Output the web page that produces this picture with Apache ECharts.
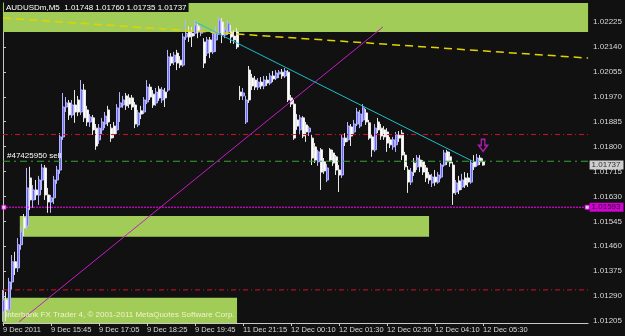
<!DOCTYPE html>
<html>
<head>
<meta charset="utf-8">
<title>AUDUSDm,M5</title>
<script src="https://cdn.jsdelivr.net/npm/echarts@6/dist/echarts.min.js"></script>
<style>
  html, body { margin: 0; padding: 0; background: #000; }
  #main { width: 625px; height: 336px; }
</style>
</head>
<body>
<div id="main"></div>
<script type="text/javascript">
// ---- data ----
// time axis labels, one every 16 bars (M5)
var tickLabels = ['9 Dec 2011', '9 Dec 15:45', '9 Dec 17:05', '9 Dec 18:25', '9 Dec 19:45',
  '11 Dec 21:15', '12 Dec 00:10', '12 Dec 01:30', '12 Dec 02:50', '12 Dec 04:10', '12 Dec 05:30'];
// price scale labels on the right
var yTicks = [1.01205, 1.0129, 1.01375, 1.0146, 1.01545, 1.0163, 1.01715, 1.018, 1.01885,
  1.0197, 1.02055, 1.0214, 1.02225];

// bars: [open, close, low, high]
var ohlc = [
  [1.01236, 1.01277, 1.01202, 1.01311], [1.01277, 1.01243, 1.01205, 1.01304], [1.01243, 1.01338, 1.01216, 1.01352],
  [1.01338, 1.01407, 1.01311, 1.01430], [1.01407, 1.01386, 1.01362, 1.01441], [1.01386, 1.01465, 1.01372, 1.01488],
  [1.01465, 1.01509, 1.01448, 1.01529], [1.01557, 1.01522, 1.01495, 1.01570], [1.01529, 1.01659, 1.01516, 1.01727],
  [1.01693, 1.01618, 1.01584, 1.01731], [1.01618, 1.01652, 1.01591, 1.01669], [1.01652, 1.01635, 1.01618, 1.01686],
  [1.01635, 1.01686, 1.01601, 1.01700], [1.01686, 1.01727, 1.01652, 1.01741], [1.01727, 1.01635, 1.01618, 1.01737],
  [1.01635, 1.01611, 1.01574, 1.01659], [1.01611, 1.01625, 1.01574, 1.01635], [1.01625, 1.01686, 1.01604, 1.01700],
  [1.01686, 1.01720, 1.01673, 1.01734], [1.01720, 1.01833, 1.01707, 1.01846], [1.01833, 1.01935, 1.01823, 1.01983],
  [1.01935, 1.01949, 1.01918, 1.01969], [1.01949, 1.01908, 1.01891, 1.01959], [1.01908, 1.01942, 1.01898, 1.01959],
  [1.01942, 1.01918, 1.01881, 1.01993], [1.01959, 1.01918, 1.01904, 1.01973], [1.01918, 1.01993, 1.01908, 1.02027],
  [1.01993, 1.01898, 1.01884, 1.02014], [1.01925, 1.01884, 1.01870, 1.01939], [1.01884, 1.01901, 1.01867, 1.01911],
  [1.01898, 1.01857, 1.01840, 1.01908], [1.01863, 1.01802, 1.01789, 1.01877], [1.01823, 1.01863, 1.01809, 1.01877],
  [1.01857, 1.01884, 1.01843, 1.01898], [1.01877, 1.01904, 1.01863, 1.01918], [1.01925, 1.01884, 1.01870, 1.01939],
  [1.01863, 1.01829, 1.01816, 1.01877], [1.01870, 1.01843, 1.01829, 1.01884], [1.01857, 1.01932, 1.01843, 1.01945],
  [1.01935, 1.01949, 1.01884, 1.01986], [1.01942, 1.01959, 1.01932, 1.01973], [1.01973, 1.01939, 1.01925, 1.01983],
  [1.01966, 1.01945, 1.01932, 1.01979], [1.01966, 1.01935, 1.01925, 1.01976], [1.01942, 1.01877, 1.01863, 1.01952],
  [1.01874, 1.01915, 1.01867, 1.01925], [1.01922, 1.01911, 1.01894, 1.01939], [1.01918, 1.01959, 1.01911, 1.01969],
  [1.01952, 1.02003, 1.01945, 1.02027], [1.02003, 1.01969, 1.01959, 1.02014], [1.01979, 1.01942, 1.01932, 1.01993],
  [1.01949, 1.01986, 1.01939, 1.02000], [1.01996, 1.01966, 1.01956, 1.02007], [1.01959, 1.01993, 1.01949, 1.02003],
  [1.01986, 1.01966, 1.01935, 1.02000], [1.01993, 1.02106, 1.01986, 1.02130], [1.02106, 1.02085, 1.02075, 1.02119],
  [1.02089, 1.02112, 1.02078, 1.02123], [1.02119, 1.02085, 1.02061, 1.02130], [1.02095, 1.02078, 1.02068, 1.02109],
  [1.02078, 1.02174, 1.02072, 1.02187], [1.02174, 1.02187, 1.02164, 1.02232], [1.02191, 1.02174, 1.02157, 1.02211],
  [1.02187, 1.02177, 1.02140, 1.02208], [1.02187, 1.02215, 1.02177, 1.02232], [1.02211, 1.02191, 1.02170, 1.02225],
  [1.02187, 1.02198, 1.02177, 1.02208], [1.02157, 1.02085, 1.02068, 1.02170], [1.02119, 1.02164, 1.02109, 1.02174],
  [1.02164, 1.02123, 1.02102, 1.02174], [1.02123, 1.02187, 1.02116, 1.02198], [1.02164, 1.02187, 1.02123, 1.02211],
  [1.02187, 1.02232, 1.02181, 1.02242], [1.02225, 1.02181, 1.02153, 1.02239], [1.02181, 1.02198, 1.02170, 1.02208],
  [1.02191, 1.02222, 1.02181, 1.02232], [1.02191, 1.02174, 1.02153, 1.02215], [1.02177, 1.02164, 1.02150, 1.02198],
  [1.02191, 1.02140, 1.02133, 1.02205], [1.01986, 1.01973, 1.01959, 1.02007], [1.01973, 1.01983, 1.01959, 1.02000],
  [1.01884, 1.01959, 1.01877, 1.01973], [1.02061, 1.01959, 1.01949, 1.02075], [1.02034, 1.02007, 1.01993, 1.02048],
  [1.02027, 1.02003, 1.01993, 1.02041], [1.02003, 1.02020, 1.01993, 1.02034], [1.02020, 1.02007, 1.01996, 1.02037],
  [1.02007, 1.02027, 1.01996, 1.02041], [1.02027, 1.02017, 1.02007, 1.02041], [1.02017, 1.02041, 1.02010, 1.02051],
  [1.02041, 1.02031, 1.02020, 1.02058], [1.02034, 1.02051, 1.02027, 1.02061], [1.02048, 1.02054, 1.02034, 1.02061],
  [1.02054, 1.02041, 1.02031, 1.02065], [1.02041, 1.02058, 1.02034, 1.02068], [1.02054, 1.01959, 1.01952, 1.02061],
  [1.01966, 1.01945, 1.01935, 1.01976], [1.01945, 1.01829, 1.01823, 1.01959], [1.01891, 1.01870, 1.01857, 1.01911],
  [1.01857, 1.01898, 1.01843, 1.01908], [1.01898, 1.01836, 1.01829, 1.01904], [1.01874, 1.01850, 1.01816, 1.01884],
  [1.01850, 1.01863, 1.01836, 1.01870], [1.01829, 1.01761, 1.01737, 1.01840], [1.01799, 1.01754, 1.01744, 1.01812],
  [1.01748, 1.01782, 1.01734, 1.01789], [1.01789, 1.01713, 1.01652, 1.01795], [1.01748, 1.01717, 1.01707, 1.01761],
  [1.01686, 1.01727, 1.01679, 1.01741], [1.01789, 1.01754, 1.01748, 1.01795], [1.01778, 1.01744, 1.01734, 1.01789],
  [1.01765, 1.01720, 1.01703, 1.01771], [1.01720, 1.01703, 1.01645, 1.01737], [1.01703, 1.01829, 1.01693, 1.01840],
  [1.01829, 1.01816, 1.01802, 1.01846], [1.01823, 1.01870, 1.01816, 1.01884], [1.01867, 1.01836, 1.01802, 1.01877],
  [1.01850, 1.01877, 1.01843, 1.01891], [1.01877, 1.01918, 1.01870, 1.01932], [1.01870, 1.01911, 1.01863, 1.01925],
  [1.01891, 1.01932, 1.01884, 1.01945], [1.01915, 1.01884, 1.01874, 1.01928], [1.01881, 1.01829, 1.01823, 1.01891],
  [1.01833, 1.01789, 1.01765, 1.01843], [1.01789, 1.01863, 1.01782, 1.01877], [1.01884, 1.01857, 1.01846, 1.01898],
  [1.01863, 1.01836, 1.01823, 1.01877], [1.01857, 1.01833, 1.01823, 1.01870], [1.01850, 1.01812, 1.01782, 1.01863],
  [1.01823, 1.01806, 1.01795, 1.01833], [1.01799, 1.01823, 1.01789, 1.01833], [1.01806, 1.01840, 1.01782, 1.01850],
  [1.01840, 1.01829, 1.01816, 1.01853], [1.01846, 1.01771, 1.01754, 1.01857], [1.01771, 1.01731, 1.01720, 1.01782],
  [1.01720, 1.01679, 1.01642, 1.01734], [1.01679, 1.01713, 1.01669, 1.01727], [1.01744, 1.01713, 1.01700, 1.01761],
  [1.01731, 1.01761, 1.01720, 1.01771], [1.01754, 1.01731, 1.01713, 1.01771], [1.01748, 1.01713, 1.01703, 1.01754],
  [1.01727, 1.01693, 1.01679, 1.01737], [1.01703, 1.01686, 1.01673, 1.01713], [1.01676, 1.01696, 1.01662, 1.01707],
  [1.01696, 1.01679, 1.01666, 1.01720], [1.01679, 1.01703, 1.01673, 1.01713], [1.01696, 1.01737, 1.01690, 1.01744],
  [1.01737, 1.01778, 1.01731, 1.01789], [1.01782, 1.01748, 1.01737, 1.01789], [1.01765, 1.01744, 1.01731, 1.01782],
  [1.01737, 1.01642, 1.01601, 1.01748], [1.01645, 1.01676, 1.01635, 1.01686], [1.01683, 1.01652, 1.01638, 1.01700],
  [1.01662, 1.01686, 1.01652, 1.01707], [1.01693, 1.01669, 1.01659, 1.01713], [1.01693, 1.01679, 1.01662, 1.01710],
  [1.01679, 1.01744, 1.01673, 1.01754], [1.01748, 1.01731, 1.01720, 1.01771], [1.01737, 1.01761, 1.01731, 1.01775],
  [1.01761, 1.01748, 1.01737, 1.01771], [1.01748, 1.01737, 1.01735, 1.01760]
];

// supply/demand zones: [fromBar, toBar, lowPrice, highPrice]
var zones = [
  [0, 195, 1.02191, 1.0229],
  [5.6, 142, 1.01492, 1.01563],
  [0, 78, 1.01198, 1.01284]
];

// trend lines: [[bar, price], [bar, price]]
var yellowLine = [[0, 1.02239], [195, 1.02102]];
var cyanLine = [[64.1, 1.02225], [156.9, 1.01748]];
var magentaLine = [[5.4, 1.01202], [126.6, 1.02208]];

// horizontal levels
var redLevels = [1.01841, 1.01311];
var orderLevel = 1.0175;
var orderName = '#47425950 sell';
var hLineLevel = 1.01593;
var lastPrice = 1.01737;

// signal arrow
var arrowMarks = [[160, 1.01804]];

var totalBars = 196;
var xCats = [];
for (var i = 0; i < totalBars; i++) xCats.push(String(i));

var font = 'Liberation Sans';
var chart = echarts.init(document.getElementById('main'));

function level(name, value, style, z) {
  return {
    name: name,
    type: 'line',
    xAxisIndex: 1,
    data: [[0, value], [totalBars - 1, value]],
    symbol: 'none',
    silent: true,
    z: z || 4,
    lineStyle: style
  };
}

// price box drawn on the right scale
function priceTag(value, bg) {
  return {
    type: 'scatter',
    xAxisIndex: 1,
    data: [[totalBars - 1, value]],
    symbol: 'rect',
    symbolSize: 1,
    silent: true,
    z: 10,
    itemStyle: { color: 'rgba(0,0,0,0)' },
    label: {
      show: true,
      position: 'right',
      distance: 1,
      formatter: value.toFixed(5),
      color: '#000000',
      backgroundColor: bg,
      fontSize: 8,
      fontFamily: font,
      padding: [1, 3, 0, 2]
    }
  };
}

var option = {
  backgroundColor: '#111111',
  animation: false,
  textStyle: { fontFamily: font },
  grid: { left: 3, right: 29, top: 3, bottom: 13 },
  xAxis: [{
    type: 'category',
    data: xCats,
    boundaryGap: false,
    axisLine: { lineStyle: { color: '#c8c8c8', width: 1 } },
    axisTick: {
      length: 3,
      interval: function (idx) { return idx % 16 === 0 && idx / 16 < tickLabels.length; },
      lineStyle: { color: '#c8c8c8' }
    },
    axisLabel: {
      interval: function (idx) { return idx % 16 === 0 && idx / 16 < tickLabels.length; },
      formatter: function (v, idx) { return tickLabels[idx / 16] || ''; },
      align: 'left',
      margin: 3,
      fontSize: 7.5,
      color: '#d8d8d8',
      fontFamily: font,
      hideOverlap: false
    },
    splitLine: { show: false }
  }, {
    type: 'value',
    min: 0,
    max: totalBars - 1,
    show: false
  }],
  yAxis: [{
    type: 'value',
    position: 'right',
    min: 1.01198,
    max: 1.0229,
    scale: true,
    axisLine: { show: true, lineStyle: { color: '#c8c8c8', width: 1 } },
    axisTick: { show: true, length: 3, customValues: yTicks, lineStyle: { color: '#c8c8c8' } },
    axisLabel: {
      customValues: yTicks,
      formatter: function (v) { return v.toFixed(5); },
      align: 'left',
      margin: 5,
      fontSize: 8,
      color: '#d8d8d8',
      fontFamily: font
    },
    splitLine: { show: false }
  }],
  graphic: [{
    type: 'text',
    left: 4,
    top: 3,
    z: 100,
    style: {
      text: 'AUDUSDm,M5  1.01748 1.01760 1.01735 1.01737',
      fill: '#ffffff',
      font: '8px "Liberation Sans"',
      backgroundColor: '#111111',
      padding: [1, 2, 0, 2]
    }
  }, {
    type: 'text',
    left: 5,
    top: 311,
    z: 100,
    style: {
      text: 'Interbank FX Trader 4, \u00a9 2001-2011 MetaQuotes Software Corp.',
      fill: '#eef2cc',
      font: '8px "Liberation Sans"'
    }
  }, {
    type: 'text',
    left: 7,
    top: 152,
    z: 100,
    style: {
      text: orderName,
      fill: '#ffffff',
      font: '8px "Liberation Sans"'
    }
  }],
  series: [{
    name: 'zones',
    type: 'line',
    xAxisIndex: 1,
    yAxisIndex: 0,
    data: [],
    z: 1,
    silent: true,
    markArea: {
      silent: true,
      itemStyle: { color: '#a2cc58', borderWidth: 0 },
      data: zones.map(function (z) {
        return [{ coord: [z[0], z[3]] }, { coord: [z[1], z[2]] }];
      })
    }
  }, {
    name: 'AUDUSDm',
    type: 'candlestick',
    xAxisIndex: 0,
    yAxisIndex: 0,
    data: ohlc,
    barWidth: 2.5,
    z: 3,
    itemStyle: {
      color: '#6c6cee',
      color0: '#ffffff',
      borderColor: '#b4b4ff',
      borderColor0: '#e8e8e8',
      borderWidth: 1
    }
  },
  level('red 1', redLevels[0], { color: '#d0102a', type: [5, 3, 1, 3], width: 1 }),
  level('red 2', redLevels[1], { color: '#d0102a', type: [5, 3, 1, 3], width: 1 }),
  level('order', orderLevel, { color: '#34a834', type: [7, 4, 2, 4], width: 1 }),
  level('hline', hLineLevel, { color: '#ff00ff', type: [2, 1], width: 1 }),
  {
    name: 'yellow trend',
    type: 'line',
    xAxisIndex: 1,
    data: yellowLine,
    symbol: 'none',
    silent: true,
    z: 4,
    lineStyle: { color: '#e0d400', width: 1.5, type: [8, 5] }
  }, {
    name: 'cyan trend',
    type: 'line',
    xAxisIndex: 1,
    data: cyanLine,
    symbol: 'none',
    silent: true,
    z: 4,
    lineStyle: { color: '#18c0c8', width: 1 }
  }, {
    name: 'magenta trend',
    type: 'line',
    xAxisIndex: 1,
    data: magentaLine,
    symbol: 'none',
    silent: true,
    z: 4,
    lineStyle: { color: '#c81cc8', width: 1 }
  }, {
    name: 'hline ends',
    type: 'scatter',
    xAxisIndex: 1,
    data: [[0.3, hLineLevel], [totalBars - 1.3, hLineLevel]],
    symbol: 'rect',
    symbolSize: 4,
    silent: true,
    z: 5,
    itemStyle: { color: '#ffffff', borderColor: '#ff00ff', borderWidth: 1 }
  }, {
    name: 'arrow',
    type: 'scatter',
    xAxisIndex: 1,
    data: arrowMarks,
    symbol: 'path://M3,0 L7,0 L7,6 L10,6 L5,12 L0,6 L3,6 Z',
    symbolSize: [9, 12],
    silent: true,
    z: 5,
    itemStyle: { color: 'rgba(0,0,0,0)', borderColor: '#d020d0', borderWidth: 1.5 }
  },
  priceTag(hLineLevel, '#ff00ff'),
  priceTag(lastPrice, '#ffffff')
  ]
};

chart.setOption(option);
</script>
</body>
</html>
